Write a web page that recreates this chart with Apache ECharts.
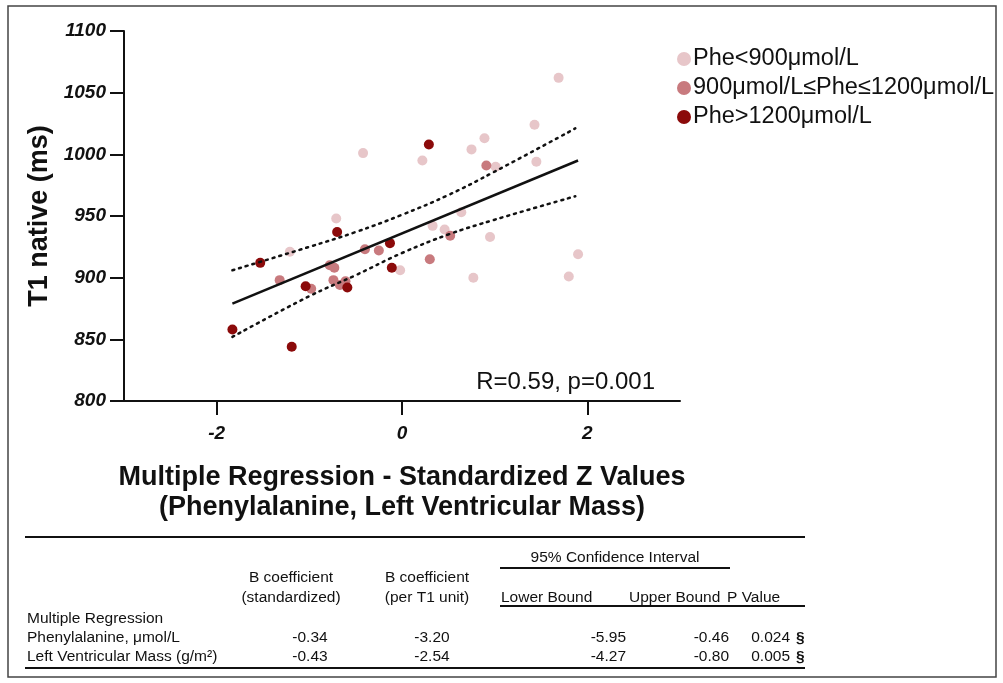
<!DOCTYPE html>
<html>
<head>
<meta charset="utf-8">
<title>T1 native vs standardized Z</title>
<script src="https://cdn.jsdelivr.net/npm/echarts@6/dist/echarts.min.js"></script>
<style>
  html, body { margin: 0; padding: 0; background: #fff; }
  #chart { width: 1003px; height: 683px; }
</style>
</head>
<body>
<div id="chart"></div>
<script>
// groups (legend)
var groupNames = ['Phe<900μmol/L', '900μmol/L≤Phe≤1200μmol/L', 'Phe>1200μmol/L'];

// Phe<900
var lowX = [-0.71, -1.21, -0.42, 0.22, 0.75, 0.64, 0.33, 0.46, -0.02, 0.77, 1.69, 1.43, 0.89, 1.01, 1.45, 0.95, 1.90, 1.80];
var lowY = [948, 921, 1001, 995, 1004, 953, 942, 939, 906, 900, 1062, 1024, 1013, 990, 994, 933, 919, 901];
// 900-1200
var midX = [-1.32, -0.78, -0.73, -0.74, -0.67, -0.61, -0.98, -0.25, -0.40, 0.52, 0.30, 0.91];
var midY = [898, 910, 908, 898, 894, 897, 891, 922, 923, 934, 915, 991];
// >1200
var highX = [-0.70, -1.53, -0.59, -1.04, -1.83, -1.19, 0.29, -0.13, -0.11];
var highY = [937, 912, 892, 893, 858, 844, 1008, 928, 908];

// regression line + 95% band
var fitX = [-1.83, 1.90];
var fitY = [879, 995];
var bandX = [-1.83, -1, -0.5, 0, 0.5, 1, 1.87];
var bandUpper = [906, 925, 937, 951, 967, 986, 1021];
var bandLower = [852, 885, 902, 920, 935, 947, 966];

var xTicks = [-2, 0, 2];
var statText = 'R=0.59, p=0.001';

// table
var rowLabels = ['Phenylalanine, μmol/L', 'Left Ventricular Mass (g/m²)'];
var bStd = ['-0.34', '-0.43'];
var bT1 = ['-3.20', '-2.54'];
var ciLow = ['-5.95', '-4.27'];
var ciHigh = ['-0.46', '-0.80'];
var pVals = ['0.024', '0.005'];

var colors = ['#e7c6c9', '#c87a7e', '#8b0a0a'];

function pairs(xs, ys) {
    return xs.map(function (x, i) { return [x, ys[i]]; });
}

var myChart = echarts.init(document.getElementById('chart'), null, {renderer: 'canvas'});

var font = '"Liberation Sans", Arial, sans-serif';
var tFont = 15.5;

function txt(x, y, s, align, bold) {
    return {
        type: 'text', x: x, y: y, silent: true,
        style: {
            text: s, fill: '#111', font: (bold ? 'bold ' : '') + tFont + 'px ' + font,
            align: align || 'left', verticalAlign: 'middle'
        }
    };
}
function hline(x1, x2, y, w) {
    return {
        type: 'line', silent: true,
        shape: {x1: x1, y1: y, x2: x2, y2: y},
        style: {stroke: '#111', lineWidth: w || 2}
    };
}

var graphics = [
    {type: 'rect', silent: true, shape: {x: 8, y: 6, width: 988, height: 671},
     style: {fill: null, stroke: '#444', lineWidth: 1.5}},
    {type: 'text', silent: true, x: 655, y: 382,
     style: {text: statText, fill: '#111', font: '24px ' + font, align: 'right', verticalAlign: 'middle'}},
    hline(25, 805, 537, 2),
    txt(615, 558, '95% Confidence Interval', 'center'),
    hline(500, 730, 568, 2),
    txt(291, 578, 'B coefficient', 'center'),
    txt(291, 598, '(standardized)', 'center'),
    txt(427, 578, 'B coefficient', 'center'),
    txt(427, 598, '(per T1 unit)', 'center'),
    txt(501, 598, 'Lower Bound'),
    txt(629, 598, 'Upper Bound'),
    txt(727, 598, 'P Value'),
    hline(500, 805, 606, 2),
    txt(27, 619, 'Multiple Regression'),
    hline(25, 805, 668, 2)
];
rowLabels.forEach(function (lab, i) {
    var y = 638 + i * 19;
    graphics.push(txt(27, y, lab));
    graphics.push(txt(310, y, bStd[i], 'center'));
    graphics.push(txt(432, y, bT1[i], 'center'));
    graphics.push(txt(626, y, ciLow[i], 'right'));
    graphics.push(txt(729, y, ciHigh[i], 'right'));
    graphics.push(txt(790, y, pVals[i], 'right'));
    graphics.push(txt(796, y, '§', 'left', true));
});

var scatterBase = {type: 'scatter', symbol: 'circle', symbolSize: 10, z: 3};

var option = {
    backgroundColor: '#fff',
    animation: false,
    textStyle: {fontFamily: font},
    grid: {left: 124, top: 31, right: 323, bottom: 282, containLabel: false},
    legend: {
        data: groupNames,
        orient: 'vertical',
        left: 672, top: 42,
        icon: 'circle', itemWidth: 14, itemHeight: 14, itemGap: 5,
        textStyle: {fontSize: 23.5, color: '#111', fontFamily: font, padding: [0, 0, 0, -3]}
    },
    xAxis: {
        type: 'value', min: -3, max: 3,
        name: 'Multiple Regression - Standardized Z Values\n(Phenylalanine, Left Ventricular Mass)',
        nameLocation: 'middle', nameGap: 62,
        nameTextStyle: {fontSize: 27, fontWeight: 'bold', color: '#111', lineHeight: 30, fontFamily: font},
        axisLine: {show: true, onZero: false, lineStyle: {color: '#111', width: 2}},
        axisTick: {show: true, length: 14, customValues: xTicks, lineStyle: {color: '#111', width: 2}},
        axisLabel: {customValues: xTicks, margin: 23, fontSize: 19, fontStyle: 'italic', fontWeight: 'bold', color: '#111'},
        splitLine: {show: false}
    },
    yAxis: {
        type: 'value', min: 800, max: 1100, interval: 50,
        name: 'T1 native (ms)',
        nameLocation: 'middle', nameGap: 66, nameRotate: 90,
        nameTextStyle: {fontSize: 27, fontWeight: 'bold', color: '#111', fontFamily: font},
        axisLine: {show: true, onZero: false, lineStyle: {color: '#111', width: 2}},
        axisTick: {show: true, length: 14, lineStyle: {color: '#111', width: 2}},
        axisLabel: {
            margin: 18, fontSize: 19, fontStyle: 'italic', fontWeight: 'bold', color: '#111',
            formatter: function (v) { return String(v); }
        },
        splitLine: {show: false}
    },
    series: [
        Object.assign({name: groupNames[0], data: pairs(lowX, lowY), itemStyle: {color: colors[0], opacity: 1}}, scatterBase),
        Object.assign({name: groupNames[1], data: pairs(midX, midY), itemStyle: {color: colors[1], opacity: 1}}, scatterBase),
        Object.assign({name: groupNames[2], data: pairs(highX, highY), itemStyle: {color: colors[2], opacity: 1}}, scatterBase),
        {
            type: 'line', name: 'fit', data: pairs(fitX, fitY), symbol: 'none', z: 4,
            lineStyle: {color: '#111', width: 2.5}
        },
        {
            type: 'line', name: 'upper', data: pairs(bandX, bandUpper), symbol: 'none', smooth: 0.4, z: 4,
            lineStyle: {color: '#111', width: 2.5, type: [2, 5], cap: 'round'}
        },
        {
            type: 'line', name: 'lower', data: pairs(bandX, bandLower), symbol: 'none', smooth: 0.4, z: 4,
            lineStyle: {color: '#111', width: 2.5, type: [2, 5], cap: 'round'}
        }
    ],
    graphic: graphics
};

myChart.setOption(option);
</script>
</body>
</html>
